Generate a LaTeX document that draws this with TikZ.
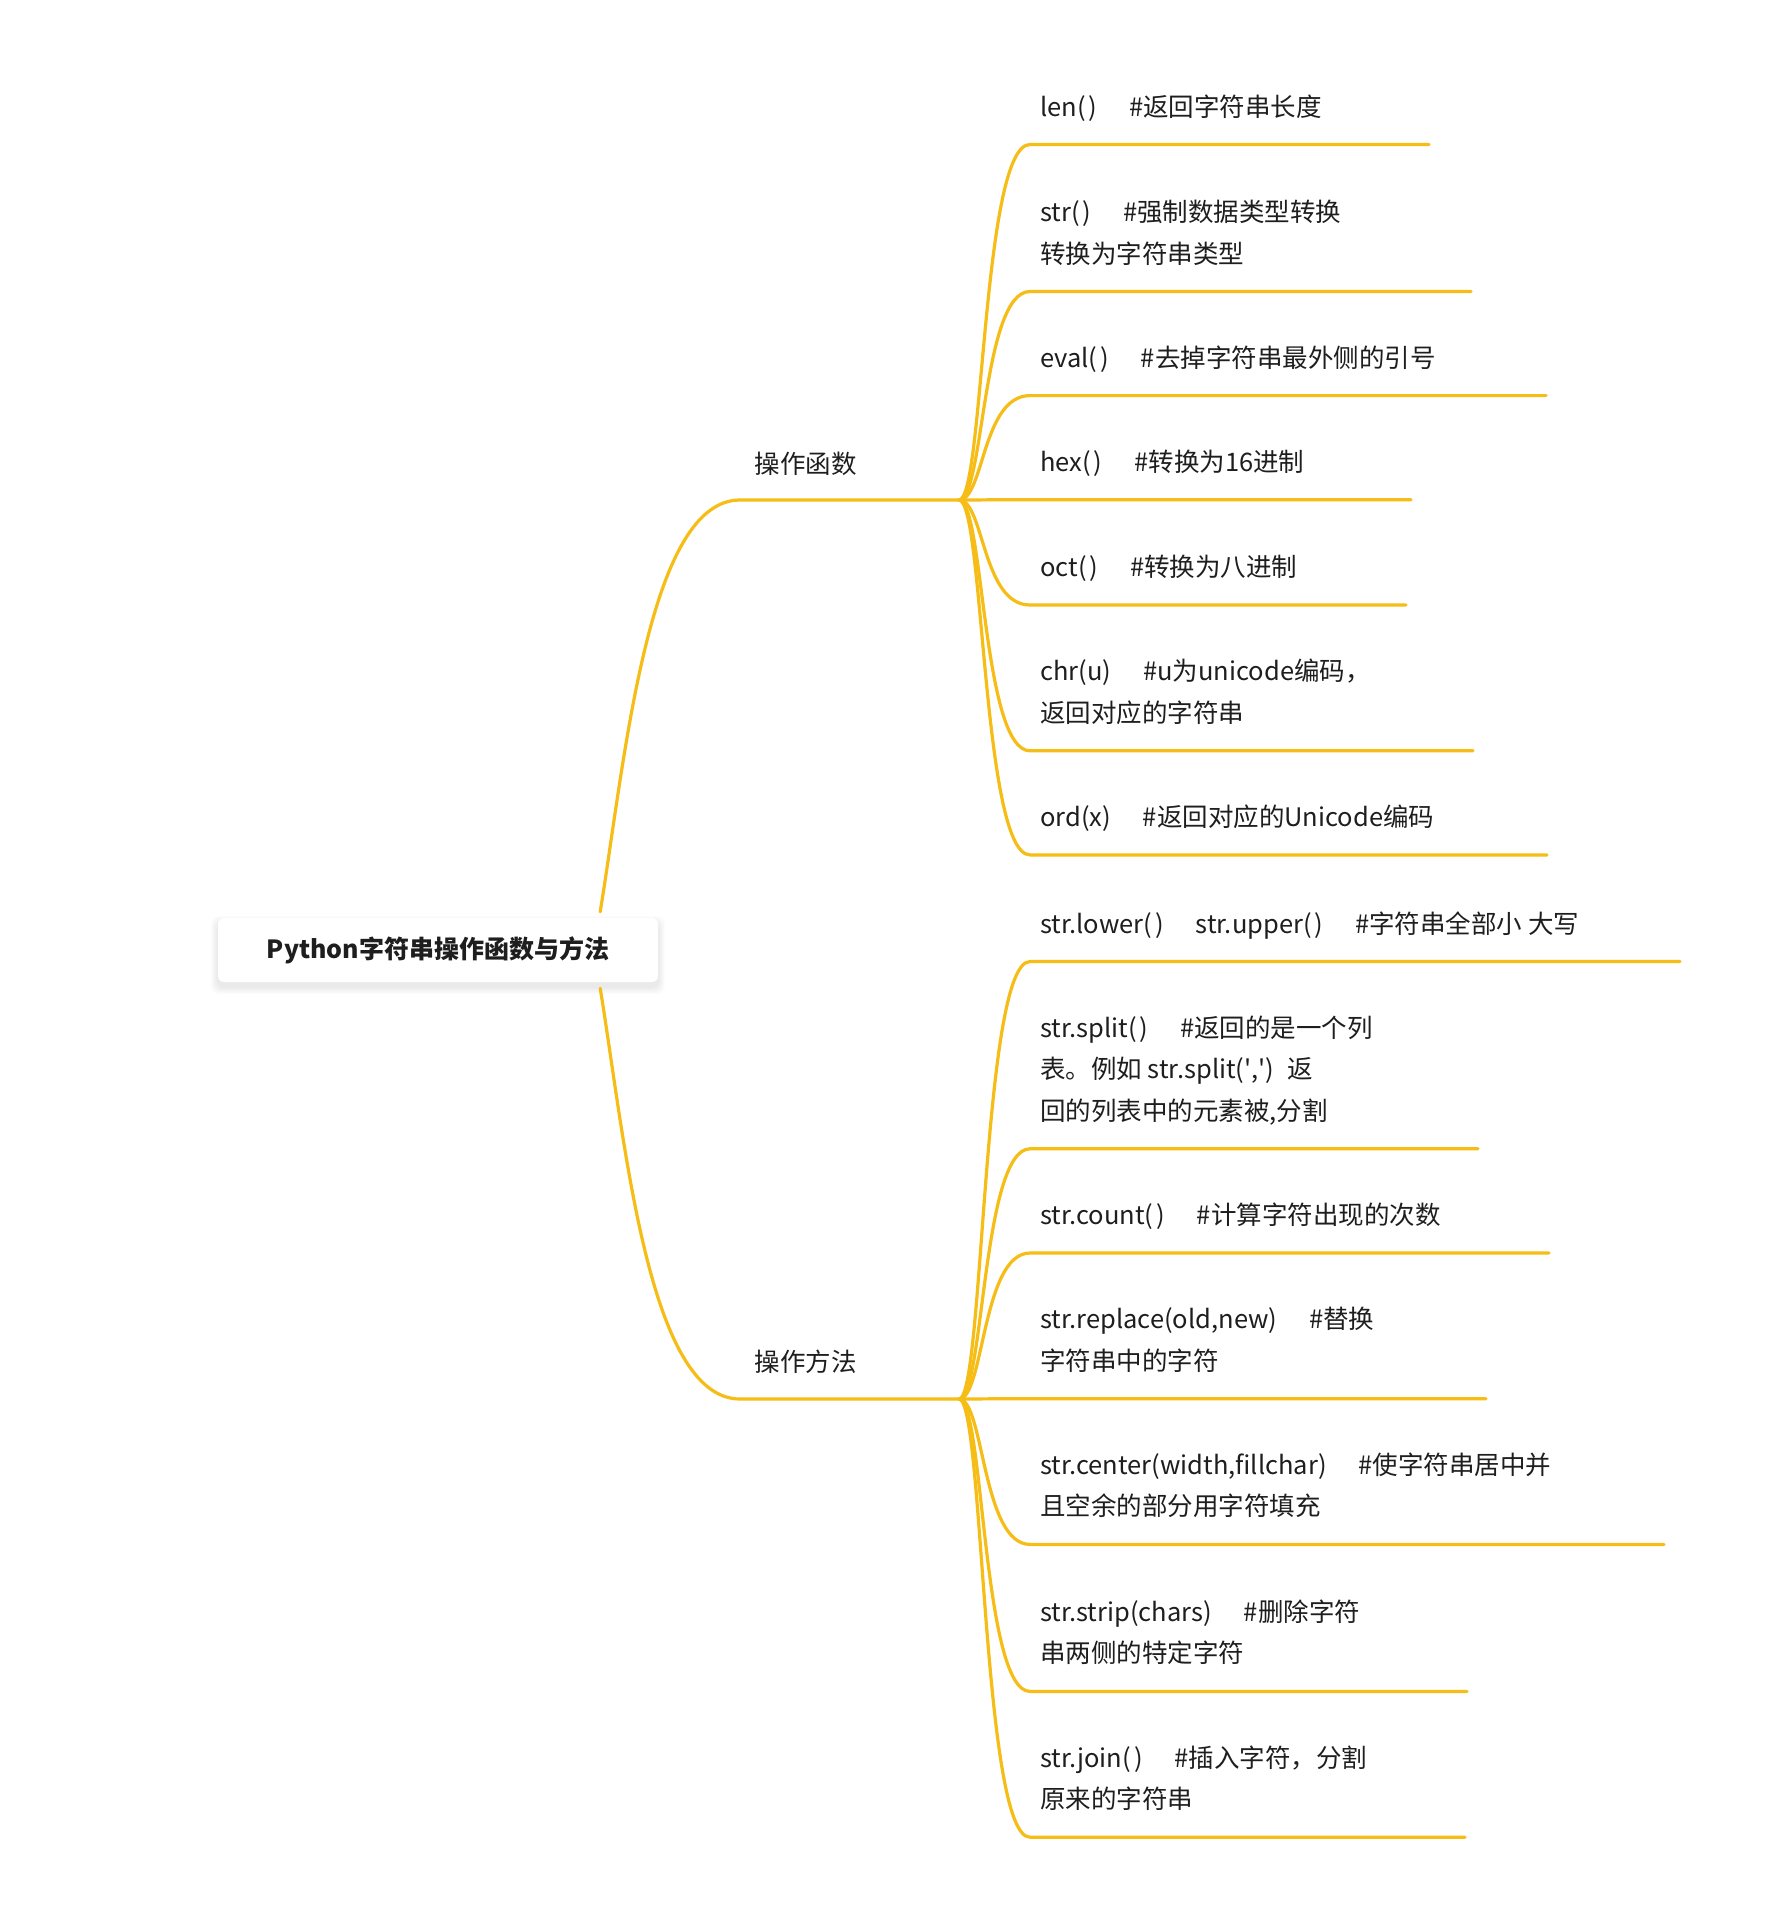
\documentclass[tikz,border=0pt]{standalone}
\usepackage{fontspec}
\setmainfont{Noto Sans CJK SC}
\usetikzlibrary{calc}
\definecolor{lineyel}{RGB}{245,189,22}
\definecolor{txt}{RGB}{30,30,30}
\newcommand{\gapx}{\hspace{1.25em}}
\newcommand{\ep}{(\hspace{0.12em})}
\newcommand{\leafitem}[6]{%
  \node[leaftext] (#1) at (1040,{#3-28.5}) {#6};
  \coordinate (#1s) at (1030,#3);
  \coordinate (#1e) at (#4,#3);
  \draw[branch] (#2) .. controls ($(#2)+(25,0)$) and (982,#3) .. (#1s) -- (#1e);
}
\begin{document}
\begin{tikzpicture}[x=1pt,y=-1pt,
  branch/.style={draw=lineyel,line width=3.2pt,line cap=round},
  leaftext/.style={anchor=base west,inner sep=0pt,align=left,text=txt,
    font=\fontsize{25.5}{41.6}\selectfont},
  midtext/.style={anchor=base west,inner sep=0pt,text=txt,
    font=\fontsize{25.5}{30}\selectfont},
  rootbox/.style={rectangle,rounded corners=6pt,fill=white,minimum width=440pt,
    minimum height=64pt,inner sep=0pt,text=txt,font=\fontsize{25}{30}\selectfont\bfseries}]
\useasboundingbox (0,0) rectangle (1771,1920);
\fill[white] (0,0) rectangle (1771,1920);
% shadow of root box
\foreach \i in {1,...,7}{
  \fill[black,opacity=0.012,rounded corners=8pt] (218-\i,918-\i+5) rectangle (658+\i,982+\i+5);
}
\node[rootbox] (root) at (438,950) {Python字符串操作函数与方法};
% hubs
\coordinate (hubA) at (959,500);
\coordinate (hubB) at (959,1399);
\coordinate (cornA) at (740,500);
\coordinate (cornB) at (740,1399);
\node[midtext] (brA) at (754.5,473) {操作函数};
\node[midtext] (brB) at (754.5,1371.5) {操作方法};
\draw[branch] ([xshift=-58pt,yshift=6pt]root.north east) .. controls (625,760) and (648,500) .. (cornA) -- (hubA);
\draw[branch] ([xshift=-58pt,yshift=-6pt]root.south east) .. controls (625,1140) and (648,1399) .. (cornB) -- (hubB);
% leaves of branch A
\leafitem{a1}{hubA}{144.5}{1429}{1}{len\ep\gapx\#返回字符串长度}
\leafitem{a2}{hubA}{291.5}{1471}{2}{str\ep\gapx\#强制数据类型转换\\转换为字符串类型}
\leafitem{a3}{hubA}{395.6}{1546}{1}{eval\ep\gapx\#去掉字符串最外侧的引号}
\leafitem{a4}{hubA}{499.7}{1411}{1}{hex\ep\gapx\#转换为16进制}
\leafitem{a5}{hubA}{605}{1406}{1}{oct\ep\gapx\#转换为八进制}
\leafitem{a6}{hubA}{750.8}{1473}{2}{chr(u)\gapx\#u为unicode编码，\\返回对应的字符串}
\leafitem{a7}{hubA}{854.9}{1547}{1}{ord(x)\gapx\#返回对应的Unicode编码}
% leaves of branch B
\leafitem{b1}{hubB}{961.5}{1680}{1}{str.lower\ep\gapx str.upper\ep\gapx\#字符串全部小 大写}
\leafitem{b2}{hubB}{1148.8}{1478}{3}{str.split\ep\gapx\#返回的是一个列\\表。例如 str.split(\textquotesingle,\textquotesingle)\hspace{0.5em}返\\回的列表中的元素被,分割}
\leafitem{b3}{hubB}{1253}{1549}{1}{str.count\ep\gapx\#计算字符出现的次数}
\leafitem{b4}{hubB}{1398.7}{1486}{2}{str.replace(old,new)\gapx\#替换\\字符串中的字符}
\leafitem{b5}{hubB}{1544.4}{1664}{2}{str.center(width,fillchar)\gapx\#使字符串居中并\\且空余的部分用字符填充}
\leafitem{b6}{hubB}{1691.4}{1467}{2}{str.strip(chars)\gapx\#删除字符\\串两侧的特定字符}
\leafitem{b7}{hubB}{1837.2}{1465}{2}{str.join\ep\gapx\#插入字符，分割\\原来的字符串}
\end{tikzpicture}
\end{document}
